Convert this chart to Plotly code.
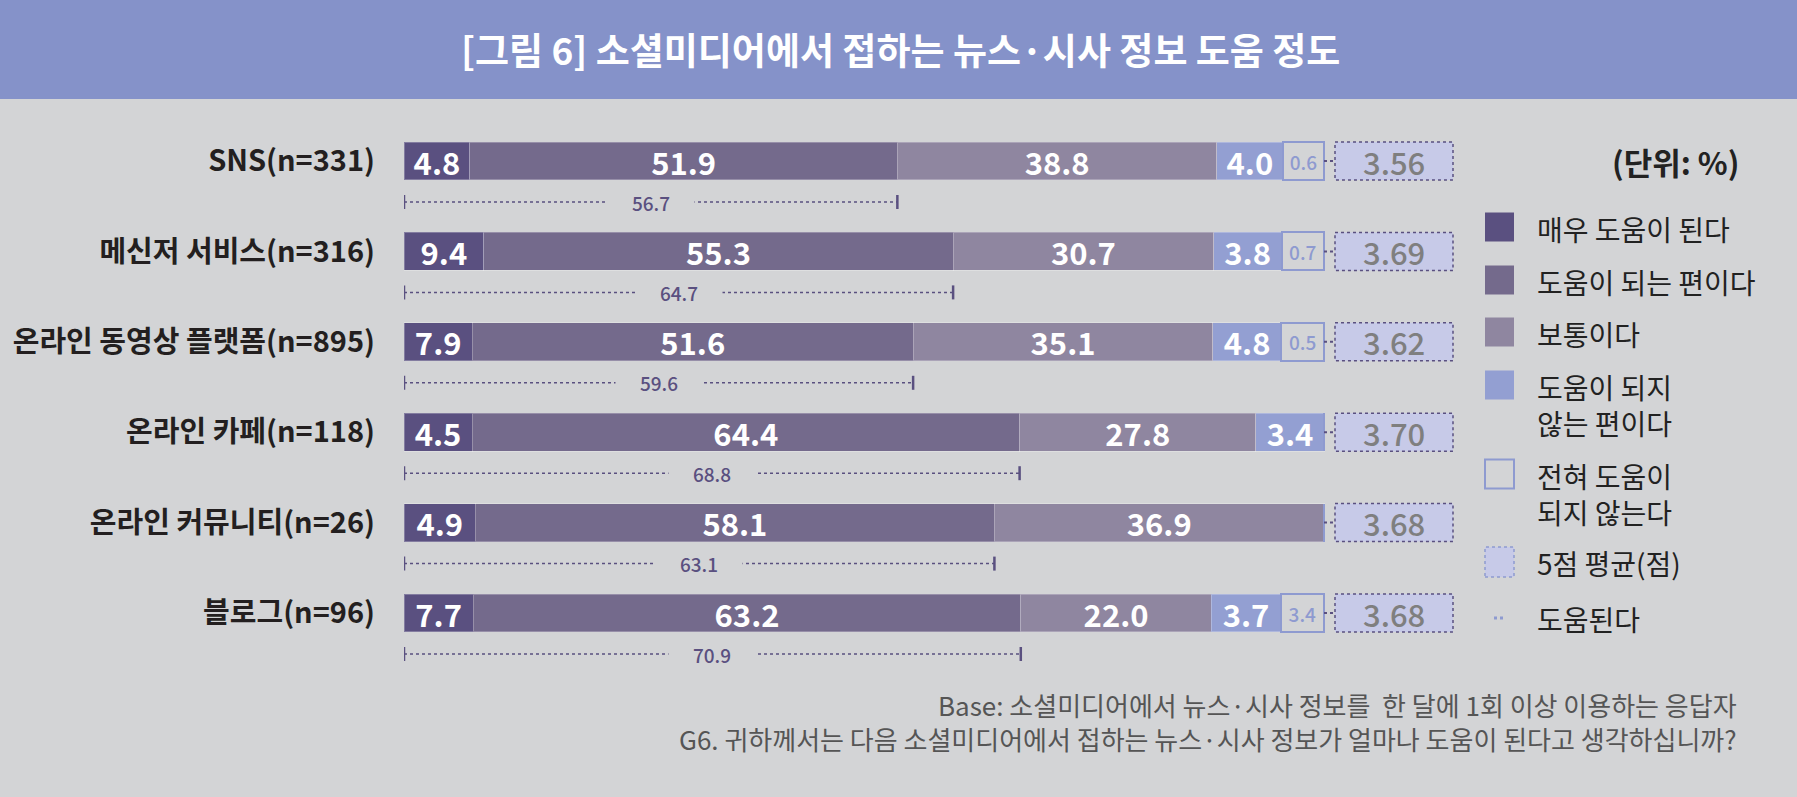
import plotly.graph_objects as go

# ---- data ----
categories = ["SNS(n=331)", "메신저 서비스(n=316)", "온라인 동영상 플랫폼(n=895)",
              "온라인 카페(n=118)", "온라인 커뮤니티(n=26)", "블로그(n=96)"]
very_helpful = [4.8, 9.4, 7.9, 4.5, 4.9, 7.7]
somewhat_helpful = [51.9, 55.3, 51.6, 64.4, 58.1, 63.2]
neutral = [38.8, 30.7, 35.1, 27.8, 36.9, 22.0]
not_much = [4.0, 3.8, 4.8, 3.4, 0.0, 3.7]
not_at_all = [0.6, 0.7, 0.5, 0.0, 0.0, 3.4]
helpful_total = [56.7, 64.7, 59.6, 68.8, 63.1, 70.9]
mean_score = [3.56, 3.69, 3.62, 3.70, 3.68, 3.68]

series_names = ["매우 도움이 된다", "도움이 되는 편이다", "보통이다",
                "도움이 되지<br>않는 편이다", "전혀 도움이<br>되지 않는다"]

# ---- styling ----
W, H = 1797, 797
X0 = 404            # left edge of bars (px)
PX_PER_PCT = 9.2    # 100% -> 920 px
ROW0, ROW_STEP = 161, 90.4
BAR_W = 0.42
BG = "#d3d4d6"
C_VERY, C_SOME, C_NEU, C_NOT = "#5a5080", "#746a8c", "#8f86a0", "#939fd2"
C_BOX = "#8e9ad0"
C_MEAN = "#c7cae8"
FONT = "Noto Sans CJK KR"
MIN_SEG, MIN_BOX = 8.0, 5.0   # minimum drawn width so labels fit (like the original)


def px_x(px):
    return (px - X0) / (W - X0)


def px_y(py):
    return 1 - py / H


n = len(categories)
groups = [very_helpful, somewhat_helpful, neutral, not_much, not_at_all]

# drawn widths: small segments widened, each row rescaled to 100
drawn = []
for i in range(n):
    raw = []
    for j, g in enumerate(groups):
        mn = MIN_BOX if j == 4 else MIN_SEG
        raw.append(max(g[i], mn) if g[i] > 0 else 0)
    k = 100 / sum(raw)
    drawn.append([r * k for r in raw])

fig = go.Figure()
colors = [C_VERY, C_SOME, C_NEU, C_NOT, "rgba(0,0,0,0)"]
for j, g in enumerate(groups):
    is_box = j == 4
    fig.add_trace(go.Bar(
        y=list(range(n)),
        x=[drawn[i][j] for i in range(n)],
        orientation="h",
        width=BAR_W,
        name=series_names[j].replace("<br>", " "),
        customdata=g,
        text=[f"{v:.1f}" if v > 0 else "" for v in g],
        textposition="inside",
        insidetextanchor="middle",
        constraintext="none",
        textangle=0,
        textfont=dict(family=FONT, size=19 if is_box else 31,
                      color=C_BOX if is_box else "white",
                      weight=500 if is_box else "bold"),
        marker=dict(color=colors[j],
                    line=dict(color=C_BOX if is_box else "rgba(255,255,255,0.25)",
                              width=2 if is_box else 1)),
        hovertemplate="%{customdata:.1f}%<extra>%{fullData.name}</extra>",
        showlegend=False,
    ))

shapes = []
annotations = []


def note(x, y, text, size, color="#222222", weight="normal", xanchor="center", **kw):
    annotations.append(dict(xref="paper", yref="paper", x=x, y=y, text=text,
                            xanchor=xanchor, yanchor="middle", showarrow=False,
                            font=dict(family=FONT, size=size, color=color, weight=weight), **kw))


# title bar
shapes.append(dict(type="rect", xref="paper", yref="paper",
                   x0=px_x(0), x1=px_x(W), y0=px_y(99), y1=px_y(0),
                   fillcolor="#8592c9", line=dict(width=0), layer="below"))
note(px_x(900), px_y(49), "[그림 6] 소셜미디어에서 접하는 뉴스·시사 정보 도움 정도",
     37, color="white", weight="bold")

tick_h = 7 / ROW_STEP
br_off = 41 / ROW_STEP
box_x0 = (1335 - X0) / PX_PER_PCT
box_x1 = (1453 - X0) / PX_PER_PCT
for i in range(n):
    # bracket for '도움된다'
    xe = drawn[i][0] + drawn[i][1]
    yb = i + br_off
    shapes.append(dict(type="line", x0=0, x1=xe, y0=yb, y1=yb,
                       line=dict(color=C_VERY, width=1.5, dash="dot")))
    for xx in (0, xe):
        shapes.append(dict(type="line", x0=xx, x1=xx, y0=yb - tick_h, y1=yb + tick_h,
                           line=dict(color=C_VERY, width=2.5)))
    annotations.append(dict(x=xe / 2, y=yb, text=f"{helpful_total[i]:.1f}", showarrow=False,
                            yanchor="middle", bgcolor=BG, width=84,
                            font=dict(family=FONT, size=19, color=C_VERY, weight=500)))
    # connector + mean box
    shapes.append(dict(type="line", x0=100, x1=box_x0, y0=i, y1=i,
                       line=dict(color=C_VERY, width=2, dash="dot")))
    shapes.append(dict(type="rect", x0=box_x0, x1=box_x1, y0=i - BAR_W / 2, y1=i + BAR_W / 2,
                       fillcolor=C_MEAN, line=dict(color=C_VERY, width=1.5, dash="dot")))
    annotations.append(dict(x=(box_x0 + box_x1) / 2, y=i, text=f"{mean_score[i]:.2f}",
                            showarrow=False, yanchor="middle",
                            font=dict(family=FONT, size=31, color="#7f7f7f", weight=500)))

# unit
note(px_x(1675), px_y(162), "(단위: %)", 31, weight="bold")

# legend (drawn by hand)
LX0, LX1, TX = 1485, 1514, 1535
leg_rows = [(C_VERY, 227), (C_SOME, 280), (C_NEU, 332), (C_NOT, 385), (None, 474)]
for j, (col, sy) in enumerate(leg_rows):
    shapes.append(dict(type="rect", xref="paper", yref="paper",
                       x0=px_x(LX0), x1=px_x(LX1), y0=px_y(sy + 14.5), y1=px_y(sy - 14.5),
                       fillcolor=col if col else "rgba(0,0,0,0)",
                       line=dict(width=0) if col else dict(color=C_BOX, width=2)))
    two_lines = "<br>" in series_names[j]
    note(px_x(TX), px_y(sy + (20 if two_lines else 2)), series_names[j], 28,
         xanchor="left", align="left")
shapes.append(dict(type="rect", xref="paper", yref="paper",
                   x0=px_x(LX0), x1=px_x(LX1), y0=px_y(577), y1=px_y(547),
                   fillcolor=C_MEAN, line=dict(color=C_BOX, width=1.5, dash="dot")))
note(px_x(TX), px_y(563), "5점 평균(점)", 28, xanchor="left")
shapes.append(dict(type="line", xref="paper", yref="paper",
                   x0=px_x(1494), x1=px_x(1504), y0=px_y(618), y1=px_y(618),
                   line=dict(color=C_BOX, width=3, dash="dot")))
note(px_x(TX), px_y(619), "도움된다", 28, xanchor="left")

# notes
notes = ["Base: 소셜미디어에서 뉴스·시사 정보를  한 달에 1회 이상 이용하는 응답자",
         "G6. 귀하께서는 다음 소셜미디어에서 접하는 뉴스·시사 정보가 얼마나 도움이 된다고 생각하십니까?"]
note(px_x(1739), px_y(721), "<br>".join(notes), 26, color="#555555",
     xanchor="right", align="right")

fig.update_layout(
    width=W, height=H, autosize=False,
    margin=dict(l=X0, r=0, t=0, b=0, pad=0),
    barmode="stack",
    paper_bgcolor=BG, plot_bgcolor=BG,
    xaxis=dict(visible=False, range=[0, (W - X0) / PX_PER_PCT], fixedrange=True),
    yaxis=dict(tickmode="array", tickvals=list(range(n)), ticktext=categories,
               range=[(H - ROW0) / ROW_STEP, -ROW0 / ROW_STEP],
               showgrid=False, zeroline=False, showline=False, ticks="",
               ticklabelstandoff=28,
               tickfont=dict(family=FONT, size=29, color="#231f20", weight="bold"),
               fixedrange=True),
    shapes=shapes,
    annotations=annotations,
    font=dict(family=FONT),
)

fig.write_html("out.html", config={"displayModeBar": False},
               post_script="document.body.style.margin='0';")
